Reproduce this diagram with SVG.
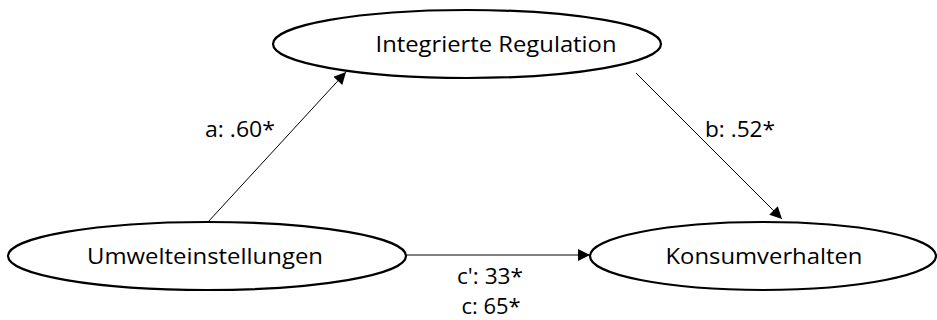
<svg xmlns="http://www.w3.org/2000/svg" width="937" height="320" viewBox="0 0 937 320">
<style>
.node{fill:#fff;stroke:#000;stroke-width:2.2}
.t{font-family:"Open Sans","Liberation Sans",sans-serif;font-size:21px;fill:#000;text-anchor:middle}
.e{stroke:#000;stroke-width:1;fill:none;marker-end:url(#ah)}
</style>
<defs>
<marker id="ah" viewBox="0 0 10 10" refX="10" refY="5" markerWidth="16" markerHeight="12" markerUnits="userSpaceOnUse" orient="auto">
<path d="M0,0 L10,5 L0,10 z" fill="#000"/>
</marker>
</defs>
<rect width="937" height="320" fill="#fff"/>
<g id="connectors">
<line class="e" x1="208" y1="222" x2="346" y2="72"/>
<line class="e" x1="636" y1="73" x2="782" y2="219"/>
<line class="e" x1="406" y1="255" x2="590" y2="255"/>
<text class="t" x="240" y="137" textLength="70" lengthAdjust="spacingAndGlyphs">a: .60*</text>
<text class="t" x="740" y="137" textLength="70" lengthAdjust="spacingAndGlyphs">b: .52*</text>
<text class="t" x="490" y="284" textLength="66" lengthAdjust="spacingAndGlyphs">c': 33*</text>
<text class="t" x="491" y="314" textLength="59" lengthAdjust="spacingAndGlyphs">c: 65*</text>
</g>
<g id="integrierte">
<ellipse class="node" cx="467" cy="44" rx="194" ry="34"/>
<text class="t" x="496" y="52" textLength="241" lengthAdjust="spacingAndGlyphs">Integrierte Regulation</text>
</g>
<g id="umwelt">
<ellipse class="node" cx="207" cy="256" rx="199" ry="34"/>
<text class="t" x="205" y="264" textLength="236" lengthAdjust="spacingAndGlyphs">Umwelteinstellungen</text>
</g>
<g id="konsum">
<ellipse class="node" cx="763" cy="256" rx="173" ry="34"/>
<text class="t" x="764" y="264" textLength="197" lengthAdjust="spacingAndGlyphs">Konsumverhalten</text>
</g>
</svg>
